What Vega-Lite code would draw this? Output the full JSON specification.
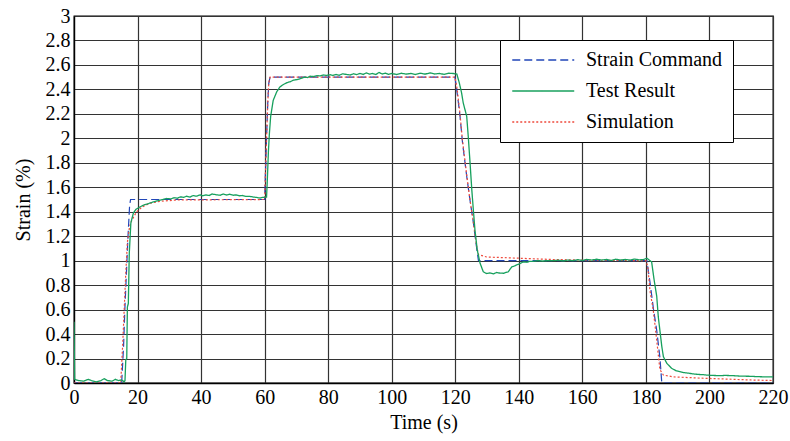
{
  "$schema": "https://vega.github.io/schema/vega-lite/v6.json",
  "width": 699,
  "height": 367,
  "autosize": {"type": "none"},
  "padding": {"left": 74, "top": 16, "right": 17, "bottom": 58},
  "background": "white",
  "config": {
    "font": "Liberation Serif, Times New Roman, serif",
    "view": {"stroke": "#000", "strokeWidth": 1.3},
    "axis": {
      "labelFont": "Liberation Serif, Times New Roman, serif", "titleFont": "Liberation Serif, Times New Roman, serif",
      "labelFontSize": 20, "titleFontSize": 20, "titleFontWeight": "normal",
      "labelColor": "#000", "titleColor": "#000",
      "grid": true, "gridColor": "#333", "gridWidth": 1.2, "gridOpacity": 1,
      "domainColor": "#000", "domainWidth": 1.3,
      "ticks": false, "labelPadding": 4
    },
    "legend": {
      "labelFont": "Liberation Serif, Times New Roman, serif", "labelFontSize": 20, "labelColor": "#000"
    }
  },
  "datasets": {
    "cmd": [
      {"t":0,"v":0},{"t":15,"v":0},{"t":15.6,"v":0.3},{"t":16,"v":0.6},{"t":16.5,"v":0.9},{"t":17,"v":1.2},{"t":17.5,"v":1.45},{"t":17.8,"v":1.5},
      {"t":60,"v":1.5},{"t":60.3,"v":1.75},{"t":60.6,"v":2.0},{"t":61,"v":2.3},{"t":61.3,"v":2.45},{"t":61.7,"v":2.5},
      {"t":119.9,"v":2.5},{"t":120.7,"v":2.35},{"t":121.5,"v":2.18},{"t":122.3,"v":1.96},{"t":123.6,"v":1.69},{"t":124.6,"v":1.5},{"t":125.7,"v":1.31},{"t":126.8,"v":1.09},{"t":127.3,"v":1.0},
      {"t":180.3,"v":1.0},{"t":181.3,"v":0.82},{"t":182.3,"v":0.62},{"t":183.4,"v":0.43},{"t":184.4,"v":0.21},{"t":185,"v":0},{"t":220,"v":0}
    ],
    "sim": [
      {"t":0,"v":0},{"t":14.7,"v":0},{"t":15.3,"v":0.3},{"t":15.8,"v":0.6},{"t":16.3,"v":0.9},{"t":16.8,"v":1.15},{"t":17.5,"v":1.28},{"t":18.2,"v":1.33},{"t":19.7,"v":1.4},{"t":21.5,"v":1.44},{"t":23.9,"v":1.47},{"t":27,"v":1.485},{"t":32.3,"v":1.496},
      {"t":60,"v":1.5},{"t":60.3,"v":1.75},{"t":60.6,"v":2.0},{"t":61,"v":2.3},{"t":61.3,"v":2.45},{"t":61.7,"v":2.5},
      {"t":119.9,"v":2.5},{"t":120.6,"v":2.4},{"t":121.4,"v":2.22},{"t":122.2,"v":2.0},{"t":123.5,"v":1.72},{"t":124.5,"v":1.52},{"t":125.6,"v":1.33},{"t":126.7,"v":1.12},{"t":127.3,"v":1.05},{"t":129.9,"v":1.03},{"t":135,"v":1.025},{"t":140,"v":1.02},{"t":150,"v":1.01},{"t":160,"v":1.005},
      {"t":180,"v":1.0},{"t":180.6,"v":0.95},{"t":181.3,"v":0.75},{"t":182.3,"v":0.6},{"t":183.4,"v":0.35},{"t":184.4,"v":0.11},{"t":185.5,"v":0.065},{"t":188.7,"v":0.05},{"t":197,"v":0.04},{"t":212.8,"v":0.025},{"t":220,"v":0.02}
    ],
    "test": [
      {"t":0,"v":0.5},{"t":0.2,"v":0.03},{"t":1.5,"v":0.02},{"t":3,"v":0.015},{"t":4.5,"v":0.03},{"t":5.5,"v":0.02},{"t":7,"v":0.01},{"t":8.5,"v":0.02},{"t":9.5,"v":0.035},{"t":10.5,"v":0.02},{"t":12,"v":0.015},{"t":13,"v":0.03},{"t":14,"v":0.02},{"t":15,"v":0.025},{"t":15.8,"v":0.01},
      {"t":16.05,"v":0.02},{"t":16.3,"v":0.19},{"t":16.6,"v":0.2},{"t":16.8,"v":0.62},{"t":17.1,"v":0.65},{"t":17.4,"v":1.06},{"t":17.9,"v":1.31},{"t":18.7,"v":1.39},{"t":19.5,"v":1.42},{"t":20.8,"v":1.44},{"t":22,"v":1.455},{"t":23,"v":1.462},{"t":24,"v":1.472},{"t":25,"v":1.48},{"t":26,"v":1.488},{"t":27,"v":1.495},{"t":28,"v":1.5},
      {"t":29.2,"v":1.508},{"t":30.5,"v":1.505},{"t":31.5,"v":1.515},{"t":32.5,"v":1.51},{"t":33.5,"v":1.522},{"t":34.4,"v":1.517},{"t":35.5,"v":1.527},{"t":36.5,"v":1.52},{"t":37.5,"v":1.532},{"t":38.5,"v":1.527},{"t":39.7,"v":1.538},{"t":40.5,"v":1.53},{"t":41.5,"v":1.538},{"t":42.5,"v":1.533},{"t":43.5,"v":1.545},{"t":44.9,"v":1.538},{"t":46,"v":1.535},{"t":47,"v":1.545},{"t":48,"v":1.537},{"t":49,"v":1.543},{"t":50.1,"v":1.535},{"t":51,"v":1.538},{"t":52,"v":1.53},{"t":53,"v":1.533},{"t":54,"v":1.525},{"t":55.4,"v":1.525},{"t":56.5,"v":1.52},{"t":57.5,"v":1.517},{"t":58.5,"v":1.512},{"t":59.6,"v":1.518},{"t":60.6,"v":1.52},
      {"t":60.8,"v":1.63},{"t":61.2,"v":1.9},{"t":61.5,"v":2.04},{"t":61.9,"v":2.18},{"t":62.7,"v":2.31},{"t":63.8,"v":2.38},{"t":64.8,"v":2.42},{"t":65.9,"v":2.44},{"t":67,"v":2.455},{"t":68,"v":2.462},{"t":69,"v":2.475},{"t":70.1,"v":2.48},{"t":71.5,"v":2.49},{"t":72.5,"v":2.5},{"t":73.5,"v":2.497},{"t":74.3,"v":2.508},{"t":75.5,"v":2.505},{"t":76.5,"v":2.513},{"t":77.5,"v":2.51},{"t":78.5,"v":2.518},{"t":79.5,"v":2.514},{"t":80.6,"v":2.52},{"t":81.5,"v":2.514},{"t":82.5,"v":2.522},{"t":83.5,"v":2.516},{"t":84.5,"v":2.527},{"t":85.8,"v":2.522},{"t":87,"v":2.518},{"t":88,"v":2.528},{"t":89,"v":2.521},{"t":90,"v":2.531},{"t":91,"v":2.522},{"t":92,"v":2.535},{"t":93,"v":2.525},{"t":94,"v":2.53},{"t":95,"v":2.522},{"t":96,"v":2.538},{"t":97,"v":2.526},{"t":98,"v":2.533},{"t":99,"v":2.523},{"t":100,"v":2.53},{"t":101.5,"v":2.522},{"t":103,"v":2.532},{"t":104.5,"v":2.525},{"t":106,"v":2.53},{"t":107.5,"v":2.522},{"t":109,"v":2.532},{"t":110.5,"v":2.525},{"t":112,"v":2.535},{"t":113.5,"v":2.526},{"t":115,"v":2.53},{"t":116.5,"v":2.523},{"t":118,"v":2.532},{"t":119.4,"v":2.53},{"t":120.5,"v":2.525},
      {"t":121.3,"v":2.45},{"t":122,"v":2.37},{"t":122.5,"v":2.29},{"t":123.6,"v":2.18},{"t":124.1,"v":2.01},{"t":124.6,"v":1.82},{"t":125.2,"v":1.58},{"t":125.7,"v":1.41},{"t":126.2,"v":1.25},{"t":126.9,"v":1.09},{"t":127.8,"v":0.98},{"t":128.8,"v":0.91},{"t":129.8,"v":0.895},{"t":130.9,"v":0.9},{"t":132,"v":0.892},{"t":133,"v":0.903},{"t":134.1,"v":0.898},{"t":135.2,"v":0.897},{"t":136.7,"v":0.91},{"t":137.8,"v":0.95},{"t":138.5,"v":0.955},{"t":139.3,"v":0.965},{"t":140.3,"v":0.975},{"t":141.4,"v":0.99},{"t":142.5,"v":0.987},{"t":143.5,"v":0.995},{"t":144.6,"v":0.995},{"t":146,"v":1.0},{"t":147.5,"v":0.997},{"t":149,"v":1.0},{"t":150.9,"v":1.0},{"t":152.5,"v":1.004},{"t":154,"v":0.998},{"t":155.5,"v":1.005},{"t":157,"v":1.0},{"t":158.5,"v":1.008},{"t":160,"v":1.002},{"t":161.3,"v":1.01},{"t":163,"v":1.005},{"t":164.5,"v":1.012},{"t":166,"v":1.005},{"t":167.5,"v":1.01},{"t":169,"v":1.002},{"t":170.5,"v":1.012},{"t":172,"v":1.005},{"t":173.5,"v":1.01},{"t":175,"v":1.005},{"t":176.5,"v":1.013},{"t":178,"v":1.006},{"t":179.3,"v":1.01},{"t":180.3,"v":1.02},
      {"t":181.8,"v":0.99},{"t":182.6,"v":0.84},{"t":183.4,"v":0.71},{"t":183.9,"v":0.54},{"t":184.4,"v":0.43},{"t":185,"v":0.3},{"t":185.5,"v":0.215},{"t":186.6,"v":0.16},{"t":188.1,"v":0.12},{"t":189.5,"v":0.1},{"t":190.7,"v":0.093},{"t":192,"v":0.085},{"t":193.5,"v":0.08},{"t":194.9,"v":0.074},{"t":196.5,"v":0.07},{"t":198,"v":0.068},{"t":199.1,"v":0.065},{"t":201,"v":0.062},{"t":203,"v":0.06},{"t":205,"v":0.062},{"t":207.5,"v":0.06},{"t":210,"v":0.056},{"t":212.5,"v":0.055},{"t":215,"v":0.052},{"t":217.5,"v":0.05},{"t":220,"v":0.05}
    ]
  },
  "encoding": {
    "x": {"field": "t", "type": "quantitative", "title": "Time (s)",
      "scale": {"domain": [0, 220], "nice": false},
      "axis": {"values": [0,20,40,60,80,100,120,140,160,180,200,220], "titlePadding": 5, "labelFlush": false, "labelBound": false}},
    "y": {"field": "v", "type": "quantitative", "title": "Strain (%)",
      "scale": {"domain": [0, 3], "nice": false},
      "axis": {"values": [0,0.2,0.4,0.6,0.8,1,1.2,1.4,1.6,1.8,2,2.2,2.4,2.6,2.8,3], "format": ".1~f", "titlePadding": 12, "labelFlush": false}},
    "color": {"field": "s", "type": "nominal", "title": null,
      "scale": {"domain": ["Strain Command", "Test Result", "Simulation"], "range": ["#2146b8", "#17a05d", "#ee4a3c"]},
      "legend": {"orient": "none", "legendX": 426, "legendY": 24, "strokeColor": "#000", "fillColor": "#fff", "padding": 10,
        "symbolType": "M-1,0H7", "symbolSize": 240, "symbolStrokeWidth": 1.3, "labelOffset": 56, "rowPadding": 11}},
    "strokeDash": {"field": "s", "type": "nominal", "title": null,
      "scale": {"domain": ["Strain Command", "Test Result", "Simulation"], "range": [[8, 4], [1, 0], [2, 2]]}}
  },
  "layer": [
    {"data": {"name": "cmd"}, "transform": [{"calculate": "'Strain Command'", "as": "s"}], "mark": {"type": "line", "strokeWidth": 1.2, "clip": true}},
    {"data": {"name": "sim"}, "transform": [{"calculate": "'Simulation'", "as": "s"}], "mark": {"type": "line", "strokeWidth": 1.2, "clip": true}},
    {"data": {"name": "test"}, "transform": [{"calculate": "'Test Result'", "as": "s"}], "mark": {"type": "line", "strokeWidth": 1.3, "clip": true}}
  ]
}
